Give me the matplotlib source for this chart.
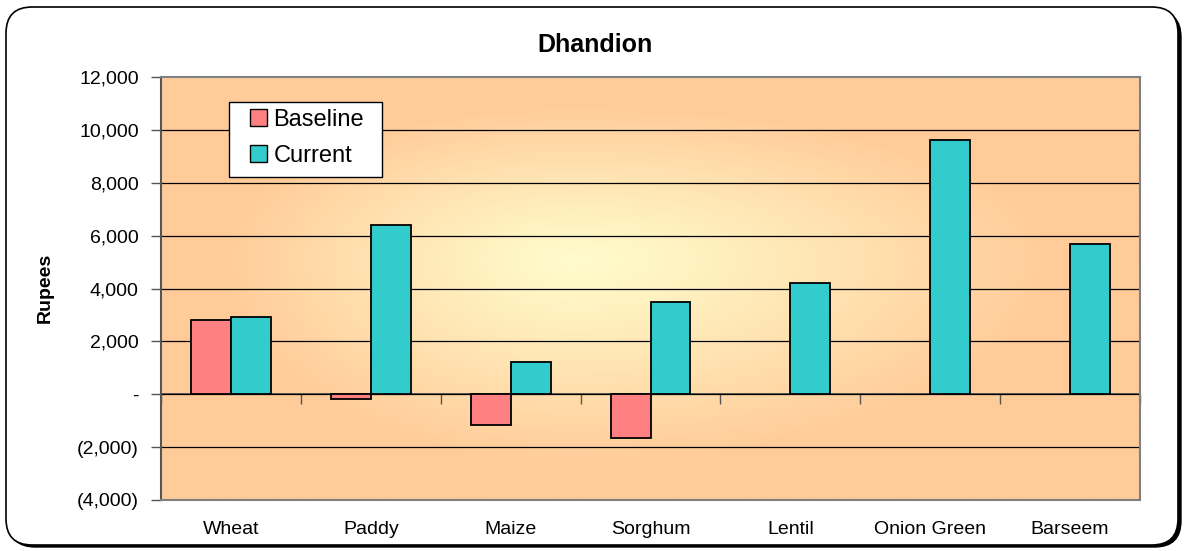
import numpy as np
import matplotlib.pyplot as plt
from matplotlib.patches import FancyBboxPatch, Patch, Rectangle
from matplotlib.ticker import FuncFormatter

plt.rcParams['font.family'] = ['Liberation Sans', 'DejaVu Sans']

# data
crops = ["Wheat", "Paddy", "Maize", "Sorghum", "Lentil", "Onion Green", "Barseem"]
baseline = [2790, -175, -1180, -1660, 0, 0, 0]
current = [2905, 6420, 1235, 3500, 4215, 9620, 5700]
series_names = ["Baseline", "Current"]
series_colors = ["#FF8080", "#33CCCC"]
y_min, y_max, y_step = -4000, 12000, 2000

W, H = 1189, 551
fig = plt.figure(figsize=(W / 100, H / 100), dpi=100)

# rounded frame with a dark shadow
shadow = FancyBboxPatch((9 / W, 4 / H), 1172 / W, 536 / H,
                        boxstyle="round,pad=0,rounding_size=0.022",
                        transform=fig.transFigure, facecolor="black",
                        edgecolor="black", lw=1, mutation_aspect=W / H,
                        zorder=-2)
frame = FancyBboxPatch((6 / W, 6 / H), 1172 / W, 538 / H,
                       boxstyle="round,pad=0,rounding_size=0.022",
                       transform=fig.transFigure, facecolor="white",
                       edgecolor="black", lw=1.2, mutation_aspect=W / H,
                       zorder=-1)
fig.patches.extend([shadow, frame])

ax = fig.add_axes([161 / W, 51 / H, 979 / W, 423 / H])
ax.set_facecolor("none")

# "from centre" gradient, light yellow to light orange
n = len(crops)
cx, cy = 0.42, 0.57
gx, gy = np.meshgrid(np.linspace(0, 1, 400), np.linspace(0, 1, 200))
dx = np.where(gx < cx, (cx - gx) / cx, (gx - cx) / (1 - cx))
dy = np.where(gy < cy, (cy - gy) / cy, (gy - cy) / (1 - cy))
d = np.clip(np.sqrt(dx ** 2 + dy ** 2) / 0.85, 0, 1) ** 1.1
inner = np.array([255, 252, 204]) / 255
outer = np.array([255, 204, 153]) / 255
img = inner[None, None, :] * (1 - d[..., None]) + outer[None, None, :] * d[..., None]
ax.imshow(img, extent=[-0.5, n - 0.5, y_min, y_max], origin="lower",
          aspect="auto", zorder=0, interpolation="bicubic")

x = np.arange(n)
bw = 0.2857
b_vals = np.array(baseline, dtype=float)
c_vals = np.array(current, dtype=float)
b_vals[b_vals == 0] = np.nan
c_vals[c_vals == 0] = np.nan
ax.bar(x - bw / 2, b_vals, bw, color=series_colors[0], edgecolor="black",
       lw=1.3, zorder=3)
ax.bar(x + bw / 2, c_vals, bw, color=series_colors[1], edgecolor="black",
       lw=1.3, zorder=3)

ax.set_xlim(-0.5, n - 0.5)
ax.set_ylim(y_min, y_max)
yt = np.arange(y_min, y_max + 1, y_step)
ax.set_yticks(yt)
for v in yt[1:-1]:
    ax.axhline(v, color="black", lw=0.9, zorder=1)


def rupee_fmt(v, pos):
    if v == 0:
        return "-"
    if v < 0:
        return "({:,.0f})".format(-v)
    return "{:,.0f}".format(v)


ax.yaxis.set_major_formatter(FuncFormatter(rupee_fmt))
ax.tick_params(axis="y", length=7, width=1, color="#555555", pad=9,
               labelsize=14)
ax.set_xticks(x)
ax.set_xticklabels(crops)
ax.tick_params(axis="x", length=0, pad=15, labelsize=14)
for s in ax.spines.values():
    s.set_color("#808080")
    s.set_linewidth(1.5)
ax.spines["left"].set_color("#555555")

# category axis drawn at zero
zero_pos = (0 - y_min) / (y_max - y_min)
sec = ax.secondary_xaxis(zero_pos)
sec.set_xticks(np.arange(n + 1) - 0.5)
sec.set_xticklabels([])
sec.tick_params(length=7, width=1, color="#555555", direction="out")
sec.spines["bottom"].set_color("#555555")
sec.spines["bottom"].set_linewidth(1.3)
sec.spines["bottom"].set_zorder(4)

# legend box drawn separately so padding can differ per side
box = Rectangle((68 / 979, 323 / 423), 153 / 979, 75 / 423,
                transform=ax.transAxes, facecolor="white", edgecolor="black",
                lw=1, zorder=5)
ax.add_patch(box)
handles = [Patch(facecolor=c, edgecolor="black", lw=1) for c in series_colors]
leg = ax.legend(handles, series_names, loc="upper left",
                bbox_to_anchor=((250 - 161) / 979, (500 - 109) / 423),
                borderaxespad=0, borderpad=0, fontsize=17, frameon=False,
                handlelength=0.72, handleheight=0.72, handletextpad=0.28,
                labelspacing=0.58)
leg.set_zorder(6)

fig.text(595 / W, 1 - 45 / H, "Dhandion", ha="center", va="center",
         fontsize=18, fontweight="bold")
fig.text(45 / W, 1 - 288 / H, "Rupees", ha="center", va="center",
         rotation=90, fontsize=14, fontweight="bold")

fig.savefig("out.png", dpi=100)
